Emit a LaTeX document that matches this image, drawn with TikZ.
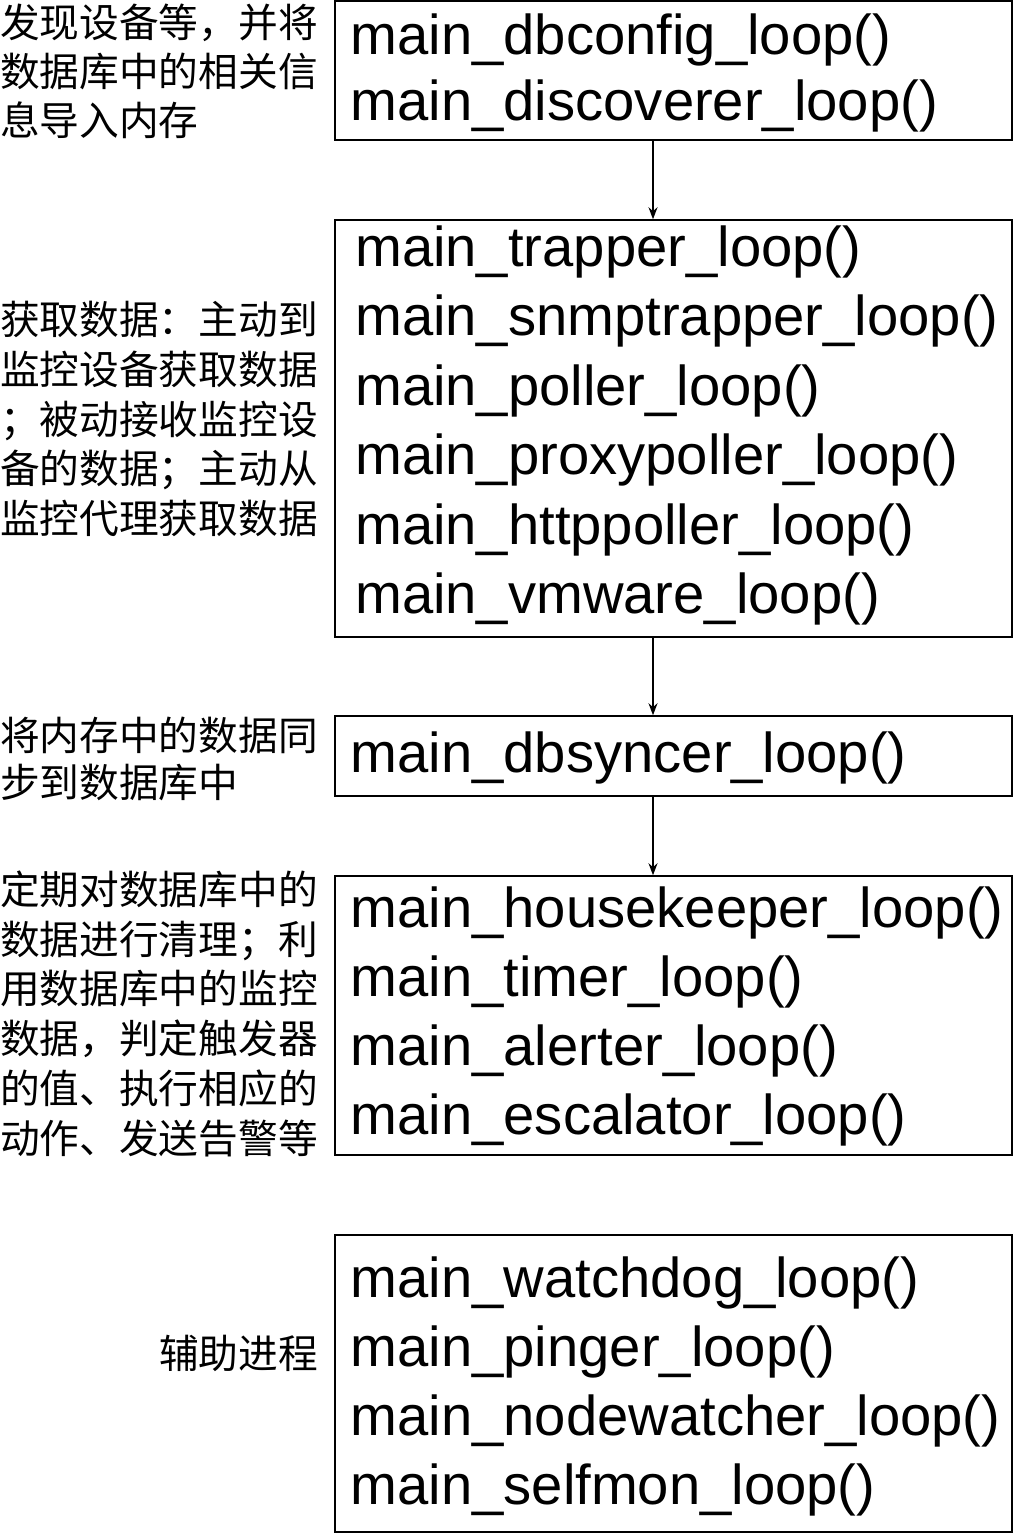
\documentclass[tikz,border=0pt]{standalone}
\usepackage{fontspec}
\setmainfont{Liberation Sans}
\newfontfamily\cjk{Noto Sans CJK SC}
\usetikzlibrary{arrows.meta}
\begin{document}
\begin{tikzpicture}[x=1pt,y=-1pt,
  box/.style={draw, line width=1.5pt, minimum width=677pt, inner sep=0pt},
  code/.style={anchor=base west, inner sep=0pt, font=\fontsize{56.2}{60}\selectfont},
  note/.style={anchor=base west, inner sep=0pt, font=\cjk\fontsize{39.7}{44}\selectfont},
  arr/.style={-{Stealth[length=12pt,width=9pt]}, line width=1.6pt}]
\useasboundingbox (0,0) rectangle (1016,1534);

% boxes
\node[box, minimum height=139pt] (b1) at (673.5,70.5) {};
\node[box, minimum height=417pt] (b2) at (673.5,428.5) {};
\node[box, minimum height=80pt]  (b3) at (673.5,756) {};
\node[box, minimum height=279pt] (b4) at (673.5,1015.5) {};
\node[box, minimum height=297pt] (b5) at (673.5,1383.5) {};

% code lines
\node[code] (c11) at (350.5,54)  {main\_dbconfig\_loop()};
\node[code] (c12) at (350.5,120) {main\_discoverer\_loop()};

\node[code] (c21) at (355,266) {main\_trapper\_loop()};
\node[code] (c22) at (355,335) {main\_snmptrapper\_loop()};
\node[code] (c23) at (355,405) {main\_poller\_loop()};
\node[code] (c24) at (355,474) {main\_proxypoller\_loop()};
\node[code] (c25) at (355,544) {main\_httppoller\_loop()};
\node[code] (c26) at (355,613) {main\_vmware\_loop()};

\node[code] (c31) at (350.5,772) {main\_dbsyncer\_loop()};

\node[code] (c41) at (350.5,927)  {main\_housekeeper\_loop()};
\node[code] (c42) at (350.5,996)  {main\_timer\_loop()};
\node[code] (c43) at (350.5,1065) {main\_alerter\_loop()};
\node[code] (c44) at (350.5,1134) {main\_escalator\_loop()};

\node[code] (c51) at (350.5,1297) {main\_watchdog\_loop()};
\node[code] (c52) at (350.5,1366) {main\_pinger\_loop()};
\node[code] (c53) at (350.5,1435) {main\_nodewatcher\_loop()};
\node[code] (c54) at (350.5,1504) {main\_selfmon\_loop()};

% notes
\node[note] (n11) at (0,37)  {发现设备等，并将};
\node[note] (n12) at (0,86)  {数据库中的相关信};
\node[note] (n13) at (0,135) {息导入内存};

\node[note] (n21) at (0,334) {获取数据：主动到};
\node[note] (n22) at (0,384) {监控设备获取数据};
\node[note] (n23) at (0,434) {；被动接收监控设};
\node[note] (n24) at (0,483) {备的数据；主动从};
\node[note] (n25) at (0,533) {监控代理获取数据};

\node[note] (n31) at (0,750) {将内存中的数据同};
\node[note] (n32) at (0,797) {步到数据库中};

\node[note] (n41) at (0,904) {定期对数据库中的};
\node[note] (n42) at (0,954) {数据进行清理；利};
\node[note] (n43) at (0,1003)  {用数据库中的监控};
\node[note] (n44) at (0,1053)  {数据，判定触发器};
\node[note] (n45) at (0,1103)  {的值、执行相应的};
\node[note] (n46) at (0,1153)  {动作、发送告警等};

\node[note, anchor=base east] (n51) at (318,1368) {辅助进程};

% connectors
\coordinate (ax) at (653,0);
\draw[arr] (b1.south -| ax) -- (b2.north -| ax);
\draw[arr] (b2.south -| ax) -- (b3.north -| ax);
\draw[arr] (b3.south -| ax) -- (b4.north -| ax);
\end{tikzpicture}
\end{document}
